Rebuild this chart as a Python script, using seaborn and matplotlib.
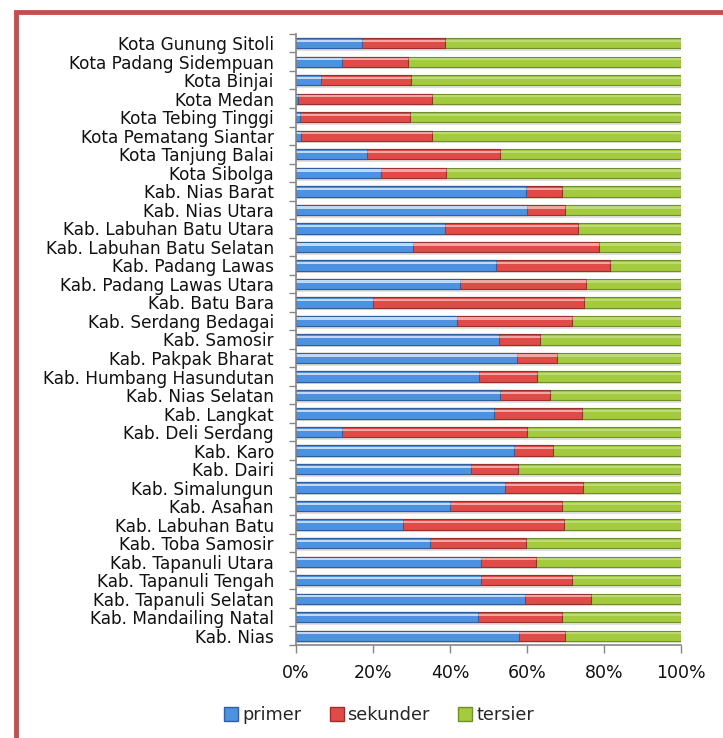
import numpy as np
import pandas as pd
import seaborn as sns
import matplotlib.pyplot as plt
import matplotlib.patheffects as pe
from matplotlib.patches import Rectangle
from matplotlib.lines import Line2D
from matplotlib.ticker import FixedLocator, PercentFormatter

# categories, top to bottom as shown
regions = [
    "Kota Gunung Sitoli", "Kota Padang Sidempuan", "Kota Binjai", "Kota Medan",
    "Kota Tebing Tinggi", "Kota Pematang Siantar", "Kota Tanjung Balai", "Kota Sibolga",
    "Kab. Nias Barat", "Kab. Nias Utara", "Kab. Labuhan Batu Utara",
    "Kab. Labuhan Batu Selatan", "Kab. Padang Lawas", "Kab. Padang Lawas Utara",
    "Kab. Batu Bara", "Kab. Serdang Bedagai", "Kab. Samosir", "Kab. Pakpak Bharat",
    "Kab. Humbang Hasundutan", "Kab. Nias Selatan", "Kab. Langkat", "Kab. Deli Serdang",
    "Kab. Karo", "Kab. Dairi", "Kab. Simalungun", "Kab. Asahan", "Kab. Labuhan Batu",
    "Kab. Toba Samosir", "Kab. Tapanuli Utara", "Kab. Tapanuli Tengah",
    "Kab. Tapanuli Selatan", "Kab. Mandailing Natal", "Kab. Nias",
]
primer = [17.2, 11.9, 6.6, 0.5, 1.0, 1.4, 18.5, 22.0, 59.7, 60.0, 38.6, 30.5, 51.9,
          42.5, 19.9, 41.9, 52.6, 57.3, 47.6, 53.0, 51.4, 11.9, 56.7, 45.4, 54.4,
          40.0, 27.8, 34.8, 48.1, 48.1, 59.6, 47.3, 57.8]
sekunder = [21.4, 17.3, 23.4, 34.8, 28.6, 33.9, 34.5, 17.0, 9.5, 10.0, 34.7, 48.2, 29.7,
            32.7, 54.9, 29.7, 10.7, 10.4, 14.9, 13.1, 23.0, 48.1, 10.0, 12.2, 20.2,
            29.1, 41.7, 24.9, 14.2, 23.5, 17.1, 21.8, 12.2]
tersier = [61.4, 70.8, 70.0, 64.7, 70.4, 64.7, 47.0, 61.0, 30.8, 30.0, 26.7, 21.3, 18.4,
           24.8, 25.2, 28.4, 36.7, 32.3, 37.5, 33.9, 25.6, 40.0, 33.3, 42.4, 25.4,
           30.9, 30.5, 40.3, 37.7, 28.4, 23.3, 30.9, 30.0]

df = pd.DataFrame({"region": regions, "primer": primer,
                   "sekunder": sekunder, "tersier": tersier})
tot = df[["primer", "sekunder", "tersier"]].sum(axis=1)
for c in ["primer", "sekunder", "tersier"]:
    df[c] = df[c] / tot * 100
df["s2"] = df["primer"] + df["sekunder"]
df["s3"] = df["s2"] + df["tersier"]

sns.set_theme(style="white")
plt.rcParams["font.family"] = ["DejaVu Sans"]

fig = plt.figure(figsize=(7.23, 7.38), dpi=100)
ax = fig.add_axes([0.4094, 0.126, 0.5325, 0.828])

colors = {"tersier": "#a3cb3d", "sekunder": "#e04b47", "primer": "#4c92e0"}
edges = {"tersier": "#6f8f2a", "sekunder": "#9a2f2d", "primer": "#2f5f9f"}

shadow = [pe.SimplePatchShadow(offset=(0.8, -1.8), shadow_rgbFace="#999999", alpha=0.3),
          pe.Normal()]
for col, key in [("s3", "tersier"), ("s2", "sekunder"), ("primer", "primer")]:
    sns.barplot(data=df, x=col, y="region", orient="h", color=colors[key],
                width=0.56, ax=ax, saturation=1, edgecolor=edges[key], linewidth=0.8)
# shadow under full bars and highlight stripe
for p in ax.patches[:len(regions)]:
    p.set_path_effects(shadow)
for p in list(ax.patches):
    x0, y0 = p.get_x(), p.get_y()
    ax.add_patch(Rectangle((x0, y0 + 0.09), p.get_width(), 0.12,
                           facecolor="white", alpha=0.3, lw=0, zorder=p.get_zorder() + 0.1))

ax.set_xlim(0, 100)
ax.set_ylim(len(regions) - 0.5, -0.5)
ax.set_xlabel("")
ax.set_ylabel("")
ax.xaxis.set_major_locator(FixedLocator([0, 20, 40, 60, 80, 100]))
ax.xaxis.set_major_formatter(PercentFormatter(decimals=0))
ax.yaxis.set_minor_locator(FixedLocator(np.arange(-0.5, len(regions), 1.0)))
ax.tick_params(axis="x", which="major", bottom=True, length=6, width=1,
               color="#868686", pad=8, labelsize=12.5, labelcolor="#111111")
ax.tick_params(axis="y", which="major", left=False, length=0, pad=16,
               labelsize=12.2, labelcolor="#111111")
ax.tick_params(axis="y", which="minor", left=True, length=5, width=1, color="#868686")

for s in ["top", "right"]:
    ax.spines[s].set_visible(False)
for s in ["left", "bottom"]:
    ax.spines[s].set_color("#868686")
    ax.spines[s].set_linewidth(1.2)

handles = [Line2D([], [], marker="s", ls="", markersize=10, markerfacecolor=colors[k],
                  markeredgecolor=edges[k]) for k in ["primer", "sekunder", "tersier"]]
fig.legend(handles, ["primer", "sekunder", "tersier"], loc="center",
           bbox_to_anchor=(0.523, 0.031), ncol=3, frameon=False, fontsize=12.8,
           handletextpad=0.1, columnspacing=1.5, handlelength=1.0)

# outer red frame
fig.add_artist(Rectangle((15.5 / 723, -0.05), 1.2, (738 - 12) / 738 + 0.05,
                         transform=fig.transFigure, fill=False,
                         edgecolor="#c0504d", linewidth=3.5))

fig.savefig("out.png", dpi=100)
